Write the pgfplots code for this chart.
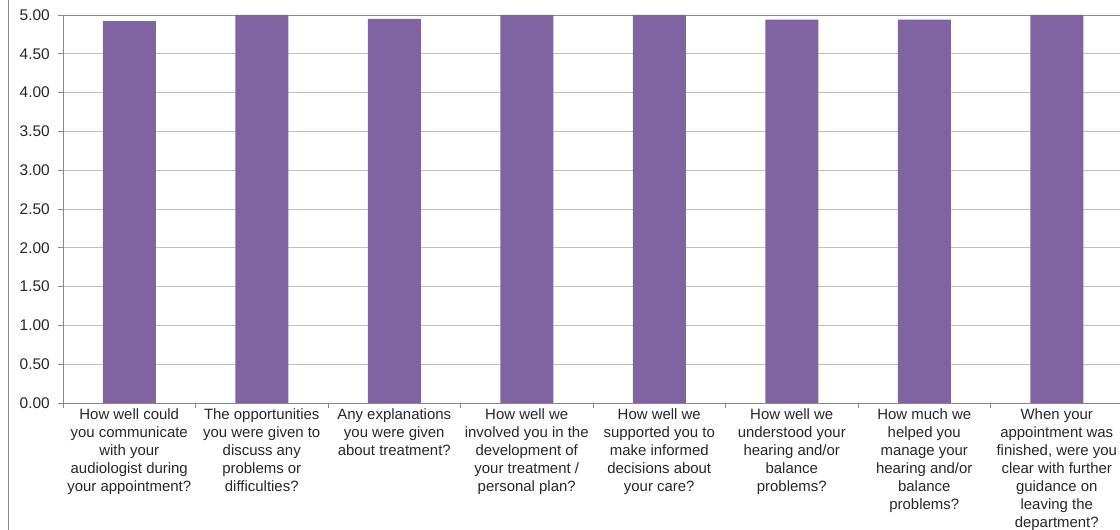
\documentclass[border=0pt]{standalone}
\usepackage{fontspec}
\setmainfont{Liberation Sans}
\usepackage{pgfplots}
\pgfplotsset{compat=1.18}
\definecolor{barpurple}{HTML}{8064A2}
\definecolor{gridgray}{HTML}{C0C0C0}
\definecolor{axisgray}{HTML}{888888}
\definecolor{textcol}{HTML}{262626}
\begin{document}
\begin{tikzpicture}[x=1bp,y=1bp]
\useasboundingbox (0,0) rectangle (1120,530);
\clip (0,0) rectangle (1120,530);
\draw[axisgray, line width=0.8bp] (8,0) -- (8,530);
\begin{axis}[
  at={(63bp,127bp)}, anchor=south west,
  scale only axis, width=1060bp, height=388bp,
  xmin=0.5, xmax=8.5, ymin=0, ymax=5,
  clip=false,
  axis x line*=bottom, axis y line*=left,
  axis line style={axisgray, line width=0.8bp, -},
  ytick={0,0.5,1,1.5,2,2.5,3,3.5,4,4.5,5},
  /pgf/number format/fixed, /pgf/number format/fixed zerofill,
  /pgf/number format/precision=2, /pgf/number format/assume math mode=true,
  yticklabel style={font=\fontsize{15.5}{17}\selectfont, color=textcol, inner sep=0pt, xshift=-8bp},
  ymajorgrids, grid style={gridgray, line width=0.8bp},
  extra y ticks={5}, extra y tick labels={},
  extra y tick style={grid style={axisgray, line width=0.8bp}, major tick length=0pt},
  tick align=outside, major tick length=5bp, minor tick length=5bp,
  tick style={axisgray, line width=0.8bp},
  xtick={1,2,3,4,5,6,7,8},
  x tick style={draw=none},
  minor xtick={0.5,1.5,2.5,3.5,4.5,5.5,6.5,7.5,8.5},
  minor x tick style={draw=axisgray, line width=0.8bp},
  xticklabels={
    {How well could\\you communicate\\with your\\audiologist during\\your appointment?},
    {The opportunities\\you were given to\\discuss any\\problems or\\difficulties?},
    {Any explanations\\you were given\\about treatment?},
    {How well we\\involved you in the\\development of\\your treatment /\\personal plan?},
    {How well we\\supported you to\\make informed\\decisions about\\your care?},
    {How well we\\understood your\\hearing and/or\\balance\\problems?},
    {How much we\\helped you\\manage your\\hearing and/or\\balance\\problems?},
    {When your\\appointment was\\finished, were you\\clear with further\\guidance on\\leaving the\\department?}},
  xticklabel style={align=center, font=\fontsize{15}{18}\selectfont, color=textcol, anchor=north, inner sep=0pt, yshift=-0.5bp},
  ybar, bar width=53bp,
]
\addplot[fill=barpurple, draw=none] coordinates {
  (1,4.92) (2,5.00) (3,4.95) (4,5.00) (5,5.00) (6,4.94) (7,4.94) (8,5.00)};
\end{axis}
\end{tikzpicture}
\end{document}
